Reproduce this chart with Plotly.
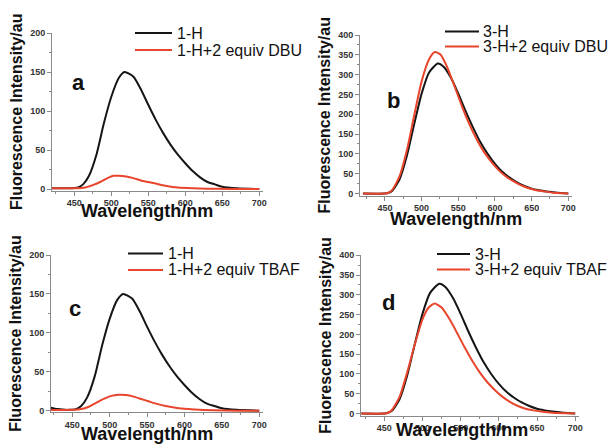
import plotly.graph_objects as go

# wavelengths (nm) and intensities
wl1H = [420, 440, 455, 462, 470, 480, 490, 500, 510, 518, 530, 540, 550, 560, 570, 580, 590, 600, 610, 620, 630, 640, 650, 670, 700]
int1H = [1, 1, 2, 6, 17, 44, 84, 118, 142, 150, 144, 128, 108, 89, 72, 57, 44, 33, 23, 15, 9, 6, 3, 1, 0]

wl1H_c = [420, 430, 445, 455, 462, 470, 480, 490, 500, 510, 518, 530, 540, 550, 560, 570, 580, 590, 600, 610, 620, 630, 640, 650, 670, 700]
int1H_c = [4, 2, 1, 2, 6, 17, 44, 84, 118, 142, 150, 144, 128, 108, 89, 72, 57, 44, 33, 23, 15, 9, 6, 3, 1, 0]

wlDBU1 = [420, 450, 465, 475, 485, 495, 503, 510, 520, 530, 540, 550, 560, 575, 590, 610, 630, 660, 700]
intDBU1 = [1, 1, 2, 5, 9, 14, 17, 17, 16, 14, 11, 9, 7, 4, 2, 1, 0.5, 0, 0]

wlTBAF1 = [420, 450, 462, 472, 482, 492, 502, 512, 522, 532, 542, 552, 562, 575, 590, 605, 620, 640, 670, 700]
intTBAF1 = [1, 1, 2, 5, 10, 15, 19, 20.5, 20, 18, 15, 12, 9, 6, 3.5, 2, 1, 0.5, 0, 0]

wl3H = [420, 450, 455, 460, 470, 480, 490, 500, 510, 522, 530, 540, 550, 560, 570, 580, 590, 600, 610, 620, 630, 640, 650, 660, 670, 685, 700]
int3H = [0, 0, 2, 7, 36, 96, 176, 252, 305, 328, 320, 292, 252, 208, 167, 130, 100, 75, 55, 40, 28, 19, 12, 8, 5, 2, 0]

wlDBU3 = [420, 450, 455, 460, 470, 480, 490, 500, 510, 518, 526, 535, 545, 555, 565, 575, 585, 595, 605, 615, 625, 635, 645, 655, 665, 680, 700]
intDBU3 = [0, 0, 2, 9, 44, 110, 198, 283, 338, 357, 350, 318, 270, 220, 175, 137, 105, 80, 59, 43, 31, 21, 14, 9, 6, 2, 0]

wlTBAF3 = [420, 450, 455, 460, 470, 480, 490, 500, 508, 516, 525, 535, 545, 555, 565, 575, 585, 595, 605, 615, 625, 635, 645, 655, 670, 700]
intTBAF3 = [0, 0, 2, 9, 42, 104, 175, 238, 268, 278, 268, 240, 205, 168, 134, 104, 79, 59, 42, 29, 19, 12, 8, 5, 2, 0]

panels = [
    # x axis, y axis, black (x, y, name), red (x, y, name)
    ("x", "y", (wl1H, int1H, "1-H"), (wlDBU1, intDBU1, "1-H+2 equiv DBU")),
    ("x2", "y2", (wl3H, int3H, "3-H"), (wlDBU3, intDBU3, "3-H+2 equiv DBU")),
    ("x3", "y3", (wl1H_c, int1H_c, "1-H"), (wlTBAF1, intTBAF1, "1-H+2 equiv TBAF")),
    ("x4", "y4", (wl3H, int3H, "3-H"), (wlTBAF3, intTBAF3, "3-H+2 equiv TBAF")),
]

BLACK = "#151515"
RED = "#e8452c"
FONT = "Arial, Liberation Sans, sans-serif"

fig = go.Figure()
for xa, ya, blk, red in panels:
    fig.add_trace(go.Scatter(x=blk[0], y=blk[1], name=blk[2], mode="lines", xaxis=xa, yaxis=ya,
                             line=dict(color=BLACK, width=2, shape="spline", smoothing=0.6)))
    fig.add_trace(go.Scatter(x=red[0], y=red[1], name=red[2], mode="lines", xaxis=xa, yaxis=ya,
                             line=dict(color=RED, width=2, shape="spline", smoothing=0.6)))

W, H = 614, 445


def xaxis(px0, px1, rng, anchor):
    return dict(domain=[px0 / W, px1 / W], range=rng, anchor=anchor, showgrid=False, zeroline=False,
                showline=True, linecolor="#8a8a8a", linewidth=1,
                ticks="outside", ticklen=4, tickcolor="#8a8a8a", tickwidth=1,
                tickvals=[450, 500, 550, 600, 650, 700],
                minor=dict(ticks="outside", ticklen=2, tickcolor="#8a8a8a", dtick=25, tick0=425),
                tickfont=dict(family=FONT, size=9, color="#333", weight="bold"))


def yaxis(top, bottom, rng, dtick, anchor):
    return dict(domain=[(H - bottom) / H, (H - top) / H], range=rng, anchor=anchor,
                showgrid=False, zeroline=False,
                showline=True, linecolor="#8a8a8a", linewidth=1,
                ticks="outside", ticklen=4, tickcolor="#8a8a8a", tickwidth=1,
                dtick=dtick, tick0=0,
                minor=dict(ticks="outside", ticklen=2, tickcolor="#8a8a8a", dtick=dtick / 2),
                tickfont=dict(family=FONT, size=9, color="#333", weight="bold"),
                title=dict(text="Fluorescence Intensity/au", standoff=3,
                           font=dict(family=FONT, size=16, color="#111", weight="bold")))


fig.update_layout(
    width=W, height=H, margin=dict(l=0, r=0, t=0, b=0, autoexpand=False),
    paper_bgcolor="white", plot_bgcolor="white", showlegend=False,
    xaxis=xaxis(52, 263, [420, 705], "y"),
    yaxis=yaxis(33, 190.6, [-2, 200], 50, "x"),
    xaxis2=xaxis(360, 572, [416, 705], "y2"),
    yaxis2=yaxis(35, 195.5, [-5, 400], 50, "x2"),
    xaxis3=xaxis(51, 263, [421.6, 705], "y3"),
    yaxis3=yaxis(255, 412.2, [-2, 200], 50, "x3"),
    xaxis4=xaxis(361, 579, [419.5, 705], "y4"),
    yaxis4=yaxis(255.3, 415.5, [-5, 400], 50, "x4"),
)

# per-panel key: line start, line end, text start, row 1 / row 2 centre (pixels)
keys = [(135, 172, 175, 33, 50), (445, 479, 481, 31.5, 46.5),
        (128, 163, 166, 253.5, 270), (437, 470, 473, 254, 269.5)]
for (xa, ya, blk, red), (l0, l1, tx, r1, r2) in zip(panels, keys):
    for (name, colour, row) in [(blk[2], BLACK, r1), (red[2], RED, r2)]:
        fig.add_shape(type="line", xref="paper", yref="paper",
                      x0=l0 / W, x1=l1 / W, y0=(H - row) / H, y1=(H - row) / H,
                      line=dict(color=colour, width=2))
        fig.add_annotation(text=name, x=tx / W, y=(H - row) / H, xref="paper", yref="paper",
                           xanchor="left", yanchor="middle", showarrow=False,
                           font=dict(family=FONT, size=16, color="#111"))

# panel letters and x-axis titles
letters = [("a", 78, 83), ("b", 394, 101), ("c", 75, 308), ("d", 389, 303)]
for txt, px, py in letters:
    fig.add_annotation(text=txt, x=px / W, y=(H - py) / H, xref="paper", yref="paper",
                       xanchor="center", yanchor="middle",
                       showarrow=False, font=dict(family=FONT, size=22, color="#111", weight="bold"))

xtitles = [(147, 211), (456, 219), (147, 434), (462, 430)]
for px, py in xtitles:
    fig.add_annotation(text="Wavelength/nm", x=px / W, y=(H - py) / H, xref="paper", yref="paper",
                       xanchor="center", yanchor="middle",
                       showarrow=False, font=dict(family=FONT, size=18, color="#111", weight="bold"))

# the page body has an 8px default margin; drop it so the figure sits at the window corner
fig.write_html("out.html", config={"displayModeBar": False},
               post_script="document.body.style.margin='0px';")
